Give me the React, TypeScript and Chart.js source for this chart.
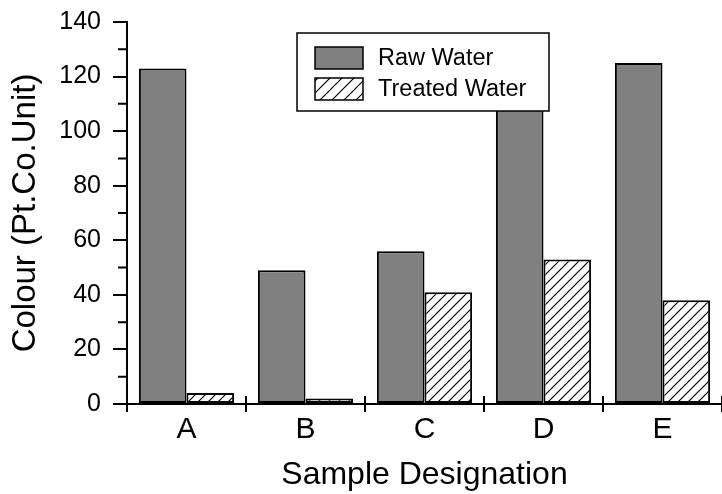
import React, { useEffect, useRef } from "react";
import { Chart, registerables } from "chart.js";

Chart.register(...registerables);

const categories = ["A", "B", "C", "D", "E"];
const rawWater = [123, 49, 56, 112, 125];
const treatedWater = [4, 2, 41, 53, 38];
const seriesNames = ["Raw Water", "Treated Water"];
const yTicks = [0, 20, 40, 60, 80, 100, 120, 140];
const yMinorTicks = [10, 30, 50, 70, 90, 110, 130];

const FONT = "'Liberation Sans', Arial, Helvetica, sans-serif";

function makeHatch(size: number, lw: number): CanvasPattern | string {
  const c = document.createElement("canvas");
  c.width = size;
  c.height = size;
  const g = c.getContext("2d");
  if (!g) return "#fff";
  g.fillStyle = "#ffffff";
  g.fillRect(0, 0, size, size);
  g.strokeStyle = "#000000";
  g.lineWidth = lw;
  g.beginPath();
  g.moveTo(0, size);
  g.lineTo(size, 0);
  g.moveTo(-2, 2);
  g.lineTo(2, -2);
  g.moveTo(size - 2, size + 2);
  g.lineTo(size + 2, size - 2);
  g.stroke();
  const p = g.createPattern(c, "repeat");
  return p || "#fff";
}

export default function App() {
  const ref = useRef<HTMLCanvasElement | null>(null);

  useEffect(() => {
    if (!ref.current) return;
    const hatch = makeHatch(10, 1.2);
    const legendHatch = makeHatch(12, 1.2);

    const axisExtras = {
      id: "axisExtras",
      afterDraw(chart: any) {
        const { ctx } = chart;
        const x = chart.scales.x;
        const y = chart.scales.y;
        ctx.save();
        ctx.strokeStyle = "#000";
        ctx.lineWidth = 2;
        const n = categories.length;
        const w = (x.right - x.left) / n;
        ctx.beginPath();
        for (let i = 0; i <= n; i++) {
          const px = Math.round(x.left + i * w);
          ctx.moveTo(px, x.top - 8);
          ctx.lineTo(px, x.top);
        }
        for (const v of yMinorTicks) {
          const py = y.getPixelForValue(v);
          ctx.moveTo(y.right - 9, py);
          ctx.lineTo(y.right, py);
        }
        ctx.stroke();

        // legend
        const ca = chart.chartArea;
        const bx = ca.left + 170;
        const by = ca.top + 11;
        const bw = 252;
        const bh = 78;
        ctx.fillStyle = "#fff";
        ctx.fillRect(bx, by, bw, bh);
        ctx.lineWidth = 1.5;
        ctx.strokeRect(bx, by, bw, bh);
        const ds = chart.data.datasets;
        const fills = [ds[0].backgroundColor, legendHatch];
        for (let i = 0; i < ds.length; i++) {
          const cy = by + 25 + i * 31;
          ctx.fillStyle = fills[i];
          ctx.fillRect(bx + 18, cy - 11, 48, 22);
          ctx.lineWidth = 1.5;
          ctx.strokeStyle = "#000";
          ctx.strokeRect(bx + 18, cy - 11, 48, 22);
          ctx.fillStyle = "#000";
          ctx.font = `23.5px ${FONT}`;
          ctx.textBaseline = "middle";
          ctx.textAlign = "left";
          ctx.fillText(ds[i].label, bx + 81, cy + 1);
        }
        ctx.restore();
      },
    };

    const chart = new Chart(ref.current, {
      type: "bar",
      data: {
        labels: categories,
        datasets: [
          {
            label: seriesNames[0],
            data: rawWater,
            backgroundColor: "#808080",
            borderColor: "#000",
            borderWidth: 2,
            borderSkipped: false,
            categoryPercentage: 0.8,
            barPercentage: 1.0,
          },
          {
            label: seriesNames[1],
            data: treatedWater,
            backgroundColor: hatch as any,
            borderColor: "#000",
            borderWidth: 2,
            borderSkipped: false,
            categoryPercentage: 0.8,
            barPercentage: 1.0,
          },
        ],
      },
      options: {
        responsive: false,
        animation: false,
        layout: { padding: { top: 22, right: 0, left: 0, bottom: 0 } },
        plugins: {
          legend: { display: false },
          tooltip: { enabled: false },
        },
        scales: {
          x: {
            offset: true,
            grid: {
              display: true,
              offset: true,
              drawOnChartArea: false,
              tickLength: 8,
              color: "#000",
              lineWidth: 2,
            },
            border: { display: true, color: "#000", width: 2 },
            ticks: {
              color: "#000",
              font: { family: FONT, size: 30 },
              padding: 0,
              maxRotation: 0,
            },
            title: {
              display: true,
              text: "Sample Designation",
              color: "#000",
              font: { family: FONT, size: 32 },
              padding: { top: 2, bottom: 0 },
            },
            afterFit(scale: any) {
              scale.height = 90;
            },
          },
          y: {
            min: 0,
            max: 140,
            afterBuildTicks(scale: any) {
              scale.ticks = yTicks.map((v) => ({ value: v }));
            },
            grid: {
              display: true,
              drawOnChartArea: false,
              tickLength: 14,
              color: "#000",
              lineWidth: 2,
            },
            border: { display: true, color: "#000", width: 2 },
            ticks: {
              color: "#000",
              font: { family: FONT, size: 25 },
              padding: 12,
            },
            title: {
              display: true,
              text: "Colour (Pt.Co.Unit)",
              color: "#000",
              font: { family: FONT, size: 33 },
              padding: { top: 6, bottom: 0 },
            },
            afterFit(scale: any) {
              scale.width = 127;
              scale.paddingTop = 0;
              scale.paddingBottom = 0;
            },
          },
        },
      },
      plugins: [axisExtras],
    });
    return () => chart.destroy();
  }, []);

  return (
    <div style={{ position: "absolute", left: 0, top: 0, width: 722, height: 494, background: "#fff" }}>
      <canvas ref={ref} width={722} height={494} style={{ display: "block" }} />
    </div>
  );
}
